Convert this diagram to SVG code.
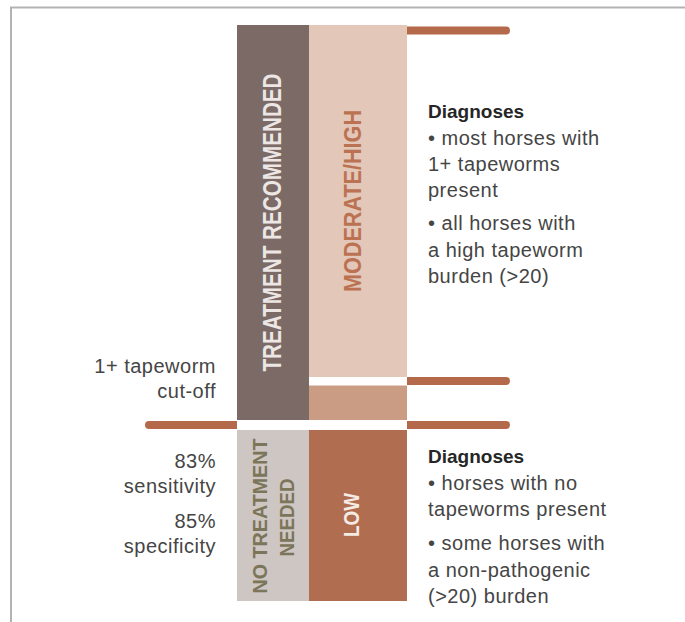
<svg xmlns="http://www.w3.org/2000/svg" width="685" height="622" viewBox="0 0 685 622">
  <style>
    .lbl { font-family: "Liberation Sans", Arial, sans-serif; font-size: 20px; fill: #454545; letter-spacing: 0.5px; }
    .hd { font-family: "Liberation Sans", Arial, sans-serif; font-size: 19px; font-weight: bold; fill: #262626; }
    .vt { font-family: "Liberation Sans", Arial, sans-serif; font-weight: bold; }
    .bar { fill: #b5694b; }
  </style>
  <rect x="0" y="0" width="685" height="622" fill="#ffffff"/>
  <polyline points="11,622 11,7.5 685,7.5" fill="none" stroke="#b3b3b3" stroke-width="2"/>

  <g id="treatment-recommended">
    <rect x="237" y="25" width="72" height="395" fill="#7b6a66"/>
    <text class="vt" font-size="25" fill="#ece6e4" transform="translate(281,371.5) rotate(-90)" textLength="298" lengthAdjust="spacingAndGlyphs">TREATMENT RECOMMENDED</text>
  </g>

  <g id="moderate-high">
    <rect x="309" y="25" width="98" height="352" fill="#e3c7b8"/>
    <rect x="309" y="385.5" width="98" height="34.5" fill="#cb9c84"/>
    <text class="vt" font-size="24" fill="#bb7252" transform="translate(360.5,292) rotate(-90)" textLength="182" lengthAdjust="spacingAndGlyphs">MODERATE/HIGH</text>
  </g>

  <g id="no-treatment-needed">
    <rect x="237" y="430" width="72" height="171" fill="#cec6c3"/>
    <text class="vt" font-size="21" fill="#7b7559" transform="translate(267,593.5) rotate(-90)" textLength="155" lengthAdjust="spacingAndGlyphs">NO TREATMENT</text>
    <text class="vt" font-size="21" fill="#7b7559" transform="translate(294,556.5) rotate(-90)" textLength="78" lengthAdjust="spacingAndGlyphs">NEEDED</text>
  </g>

  <g id="low">
    <rect x="309" y="430" width="98" height="171" fill="#b16d4f"/>
    <text class="vt" font-size="22" fill="#f5ebe5" transform="translate(359,537) rotate(-90)" textLength="44" lengthAdjust="spacingAndGlyphs">LOW</text>
  </g>

  <g id="connectors">
    <path class="bar" d="M407,26.5 H506 A4,4 0 0 1 506,34.5 H407 Z"/>
    <path class="bar" d="M407,377 H506 A4,4 0 0 1 506,385 H407 Z"/>
    <path class="bar" d="M407,421 H506 A4,4 0 0 1 506,429 H407 Z"/>
    <path class="bar" d="M237,421 H149 A4,4 0 0 0 149,429 H237 Z"/>
  </g>

  <g id="cutoff-label">
    <text class="lbl" x="216" y="373" text-anchor="end">1+ tapeworm</text>
    <text class="lbl" x="216" y="398" text-anchor="end">cut-off</text>
  </g>

  <g id="stats-label">
    <text class="lbl" x="216" y="467.5" text-anchor="end">83%</text>
    <text class="lbl" x="216" y="493" text-anchor="end">sensitivity</text>
    <text class="lbl" x="216" y="528" text-anchor="end">85%</text>
    <text class="lbl" x="216" y="553" text-anchor="end">specificity</text>
  </g>

  <g id="diagnoses-high">
    <text class="hd" x="428" y="118">Diagnoses</text>
    <text class="lbl" x="428" y="145">• most horses with</text>
    <text class="lbl" x="428" y="171">1+ tapeworms</text>
    <text class="lbl" x="428" y="197">present</text>
    <text class="lbl" x="428" y="230">• all horses with</text>
    <text class="lbl" x="428" y="257">a high tapeworm</text>
    <text class="lbl" x="428" y="283">burden (&gt;20)</text>
  </g>

  <g id="diagnoses-low">
    <text class="hd" x="428" y="463">Diagnoses</text>
    <text class="lbl" x="428" y="490">• horses with no</text>
    <text class="lbl" x="428" y="516">tapeworms present</text>
    <text class="lbl" x="428" y="550">• some horses with</text>
    <text class="lbl" x="428" y="577">a non-pathogenic</text>
    <text class="lbl" x="428" y="603">(&gt;20) burden</text>
  </g>
</svg>
